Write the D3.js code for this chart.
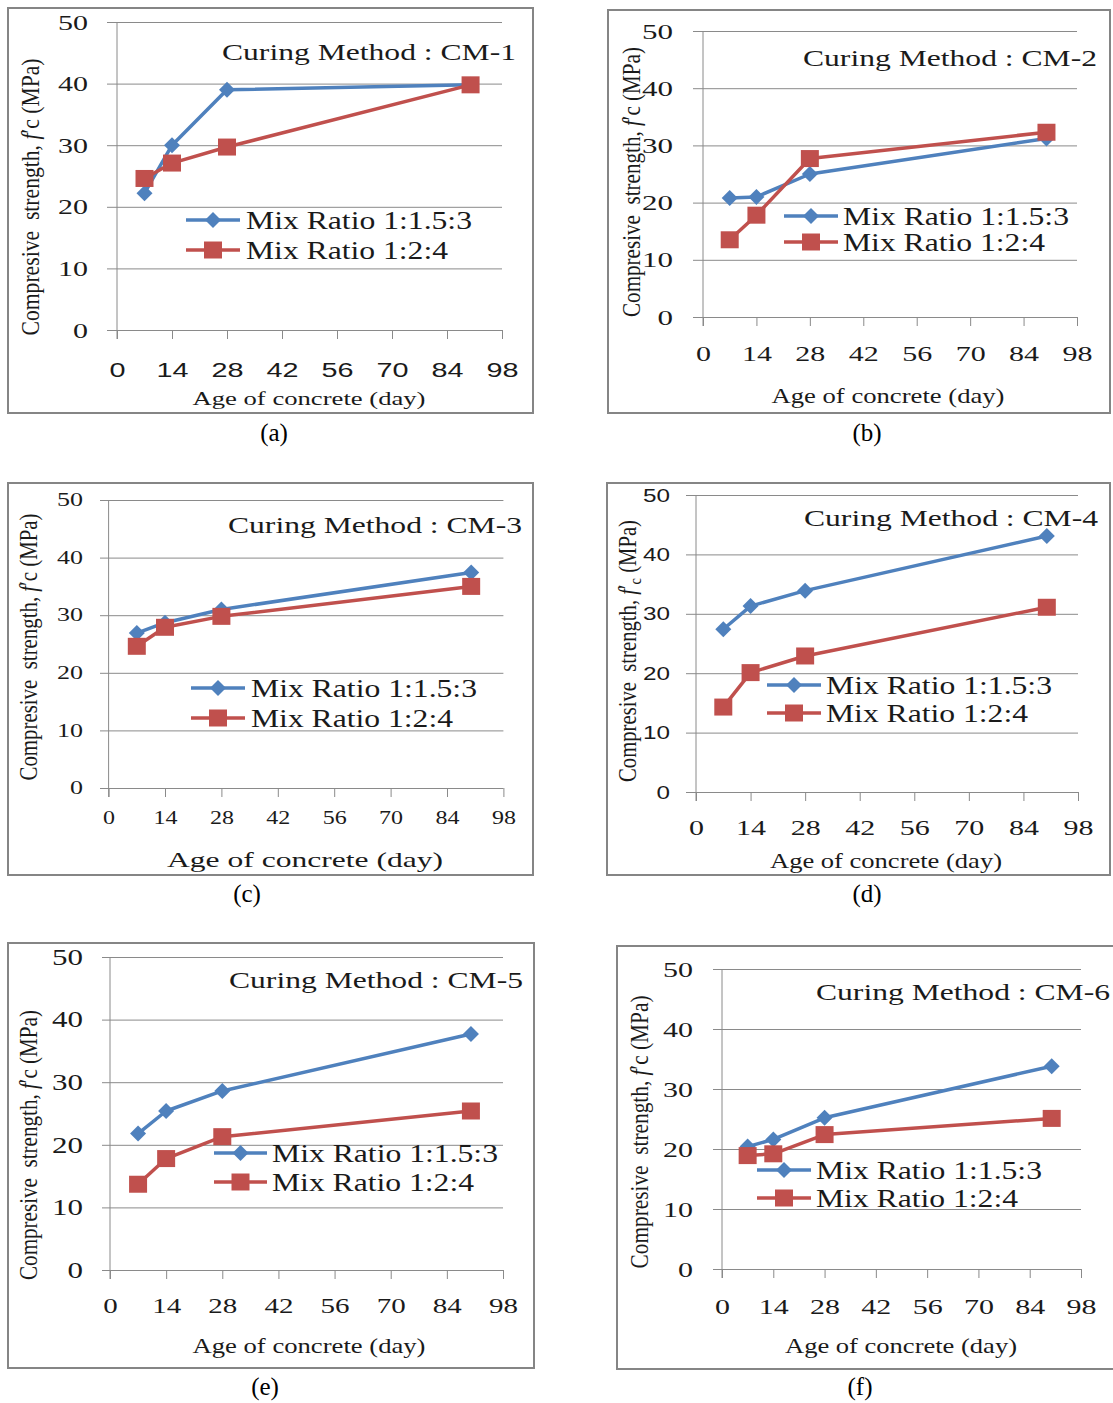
<!DOCTYPE html>
<html>
<head>
<meta charset="utf-8">
<script src="https://cdn.jsdelivr.net/npm/d3@7"></script>
<style>
body { margin: 0; background: #fff; }
svg text { white-space: pre; }
</style>
</head>
<body>
<div id="chart"></div>
<script>
var days = [7, 14, 28, 90];
var xTicks = [0, 14, 28, 42, 56, 70, 84, 98];
var yTicks = [0, 10, 20, 30, 40, 50];
var seriesNames = ["Mix Ratio 1:1.5:3", "Mix Ratio 1:2:4"];
var curingMethods = ["CM-1", "CM-2", "CM-3", "CM-4", "CM-5", "CM-6"];
var captions = ["(a)", "(b)", "(c)", "(d)", "(e)", "(f)"];

// compressive strength (MPa) at 7, 14, 28, 90 days, one row per curing method
var mix1 = [
    [22.2, 30.0, 39.0, 39.8],
    [20.8, 21.0, 25.0, 31.2],
    [26.9, 28.7, 31.0, 37.4],
    [27.4, 31.3, 33.9, 43.1],
    [21.8, 25.4, 28.6, 37.7],
    [20.4, 21.6, 25.2, 33.8]
];
var mix2 = [
    [24.6, 27.1, 29.7, 39.8],
    [13.5, 17.8, 27.7, 32.3],
    [24.6, 27.9, 29.8, 35.0],
    [14.3, 20.1, 22.9, 31.1],
    [13.7, 17.8, 21.3, 25.4],
    [18.9, 19.2, 22.4, 25.1]
];

var colours = ["#4F81BD", "#C0504D"];
var gridColour = "#8a8a8a";
var serif = "'Liberation Serif', 'Times New Roman', serif";
var sans = "'Liberation Sans', Arial, sans-serif";

// where each small chart sits on the page
var panels = [
    {box: [8, 8, 533, 413], x0: 117, x1: 502, y0: 330, y1: 22, gl: 107, yLblR: 88, xLblY: 370,
     xt: [309, 399, 19, 233], yt: [31, 197, 277], title: [222, 52], leg: [186, 240, 220, 250, 246], cap: [274, 432],
     xFont: [sans, 20, 16], yFont: [serif, 22, 15], sub: false},
    {box: [608, 10, 1110, 413], x0: 703, x1: 1077, y0: 317, y1: 31, gl: 693, yLblR: 673, xLblY: 353,
     xt: [888, 397, 21, 233], yt: [632, 182, 270], title: [803, 58], leg: [784, 838, 216, 242, 843], cap: [867, 432],
     xFont: [serif, 22, 15], yFont: [serif, 22, 15.5], sub: false},
    {box: [8, 483, 533, 875], x0: 108.6, x1: 503.4, y0: 788, y1: 500, gl: 100, yLblR: 83, xLblY: 818,
     xt: [305, 860, 22, 276], yt: [29, 647, 267], title: [228, 525], leg: [191, 245, 688, 718, 251], cap: [247, 893],
     xFont: [serif, 18, 12], yFont: [serif, 18, 13], sub: false},
    {box: [607, 483, 1110, 875], x0: 696, x1: 1078, y0: 792, y1: 495, gl: 686, yLblR: 670, xLblY: 827,
     xt: [886, 862, 21, 232], yt: [628, 651, 262], title: [804, 518], leg: [767, 821, 685, 713, 826], cap: [867, 893],
     xFont: [serif, 22, 15], yFont: [sans, 19, 13.5], sub: true},
    {box: [8, 943, 534, 1368], x0: 110, x1: 503, y0: 1270, y1: 957, gl: 102, yLblR: 83, xLblY: 1305,
     xt: [309, 1347, 21, 233], yt: [29, 1145, 270], title: [229, 980], leg: [214, 267, 1153, 1182, 272], cap: [265, 1386],
     xFont: [serif, 22, 14.5], yFont: [serif, 23, 15.5], sub: false},
    {box: [617, 946, 1125, 1369], x0: 722, x1: 1081, y0: 1269, y1: 969, gl: 713, yLblR: 693, xLblY: 1306,
     xt: [901, 1347, 21, 232], yt: [640, 1132, 273], title: [816, 992], leg: [757, 811, 1170, 1198, 816], cap: [860, 1386],
     xFont: [serif, 22, 15], yFont: [serif, 22, 15], sub: false}
];

var diamond = "M0,-8L8,0L0,8L-8,0Z";
var square = "M-9,-8.5H9V8.5H-9Z";
var markers = [diamond, square];

var svg = d3.select("#chart").append("svg")
    .attr("width", 1113)
    .attr("height", 1403)
    .style("display", "block")
    .style("background", "#fff");

for (var i = 0; i < panels.length; i++) {
    drawPanel(svg, panels[i], i);
}

function fit(sel, width) {
    sel.attr("textLength", width).attr("lengthAdjust", "spacingAndGlyphs");
}

function drawPanel(svg, p, i) {
    var g = svg.append("g");

    g.append("rect")
        .attr("x", p.box[0]).attr("y", p.box[1])
        .attr("width", p.box[2] - p.box[0]).attr("height", p.box[3] - p.box[1])
        .attr("fill", "none").attr("stroke", "#858585").attr("stroke-width", 2);

    var x = d3.scaleLinear().domain([0, 98]).range([p.x0, p.x1]);
    var y = d3.scaleLinear().domain([0, 50]).range([p.y0, p.y1]);

    // horizontal gridlines + y tick labels
    var yAxis = g.append("g")
        .attr("transform", "translate(" + p.gl + ",0)")
        .call(d3.axisLeft(y).tickValues(yTicks).tickSize(-(p.x1 - p.gl)).tickPadding(p.gl - p.yLblR));
    yAxis.select(".domain").remove();
    yAxis.selectAll("line").attr("stroke", gridColour);
    yAxis.selectAll("text")
        .style("font-family", p.yFont[0]).style("font-size", p.yFont[1] + "px").attr("fill", "#1a1a1a")
        .attr("textLength", function(d) { return String(d).length * p.yFont[2]; })
        .attr("lengthAdjust", "spacingAndGlyphs");

    // x ticks + labels
    var xAxis = g.append("g")
        .attr("transform", "translate(0," + p.y0 + ")")
        .call(d3.axisBottom(x).tickValues(xTicks).tickSize(9));
    xAxis.select(".domain").remove();
    xAxis.selectAll("line").attr("stroke", gridColour);
    xAxis.selectAll("text")
        .attr("y", p.xLblY - p.y0).attr("dy", "0.35em")
        .style("font-family", p.xFont[0]).style("font-size", p.xFont[1] + "px").attr("fill", "#1a1a1a")
        .attr("textLength", function(d) { return String(d).length * p.xFont[2]; })
        .attr("lengthAdjust", "spacingAndGlyphs");

    g.append("line")
        .attr("x1", p.x0).attr("x2", p.x0)
        .attr("y1", p.y1).attr("y2", p.y0 + 9)
        .attr("stroke", gridColour);

    // axis titles
    var xt = g.append("text")
        .attr("x", p.xt[0]).attr("y", p.xt[1]).attr("dy", "0.3em")
        .attr("text-anchor", "middle")
        .style("font-family", serif).style("font-size", p.xt[2] + "px")
        .attr("fill", "#1a1a1a")
        .text("Age of concrete (day)");
    fit(xt, p.xt[3]);

    var yt = g.append("text")
        .attr("transform", "translate(" + p.yt[0] + "," + p.yt[1] + ") rotate(-90) scale(1,1.25)")
        .attr("text-anchor", "middle").attr("dy", "0.3em")
        .attr("xml:space", "preserve")
        .style("font-family", serif).style("font-size", "20px")
        .attr("fill", "#1a1a1a");
    yt.append("tspan").text("Compresive  strength, ");
    yt.append("tspan").style("font-style", "italic").text("f");
    yt.append("tspan").text("\u2032");
    if (p.sub) {
        yt.append("tspan").attr("dy", 4).style("font-size", "14px").text("c");
        yt.append("tspan").attr("dy", -4).text(" (MPa)");
    } else {
        yt.append("tspan").text("c (MPa)");
    }
    fit(yt, p.yt[2]);

    // series
    var line = d3.line()
        .x(function(d) { return x(d[0]); })
        .y(function(d) { return y(d[1]); });

    [mix1[i], mix2[i]].forEach(function(vals, s) {
        var pts = days.map(function(d, k) { return [d, vals[k]]; });
        g.append("path")
            .attr("d", line(pts))
            .attr("fill", "none")
            .attr("stroke", colours[s])
            .attr("stroke-width", 3.5)
            .attr("stroke-linejoin", "round");
        g.selectAll(".pt" + s).data(pts).enter().append("path")
            .attr("d", markers[s])
            .attr("transform", function(d) { return "translate(" + x(d[0]) + "," + y(d[1]) + ")"; })
            .attr("fill", colours[s]);
    });

    // legend
    var legW = [226, 202];
    [0, 1].forEach(function(s) {
        var ly = p.leg[2 + s];
        g.append("line")
            .attr("x1", p.leg[0]).attr("x2", p.leg[1])
            .attr("y1", ly).attr("y2", ly)
            .attr("stroke", colours[s]).attr("stroke-width", 3.5);
        g.append("path")
            .attr("d", markers[s])
            .attr("transform", "translate(" + ((p.leg[0] + p.leg[1]) / 2) + "," + ly + ")")
            .attr("fill", colours[s]);
        var lt = g.append("text")
            .attr("x", p.leg[4]).attr("y", ly).attr("dy", "0.35em")
            .style("font-family", serif).style("font-size", "25px")
            .attr("fill", "#1a1a1a")
            .text(seriesNames[s]);
        fit(lt, legW[s]);
    });

    var title = g.append("text")
        .attr("x", p.title[0]).attr("y", p.title[1]).attr("dy", "0.35em")
        .style("font-family", serif).style("font-size", "24px")
        .attr("fill", "#1a1a1a")
        .text("Curing Method : " + curingMethods[i]);
    fit(title, 294);

    svg.append("text")
        .attr("x", p.cap[0]).attr("y", p.cap[1]).attr("dy", "0.35em")
        .attr("text-anchor", "middle")
        .style("font-family", serif).style("font-size", "25px")
        .attr("fill", "#000")
        .text(captions[i]);
}
</script>
</body>
</html>
